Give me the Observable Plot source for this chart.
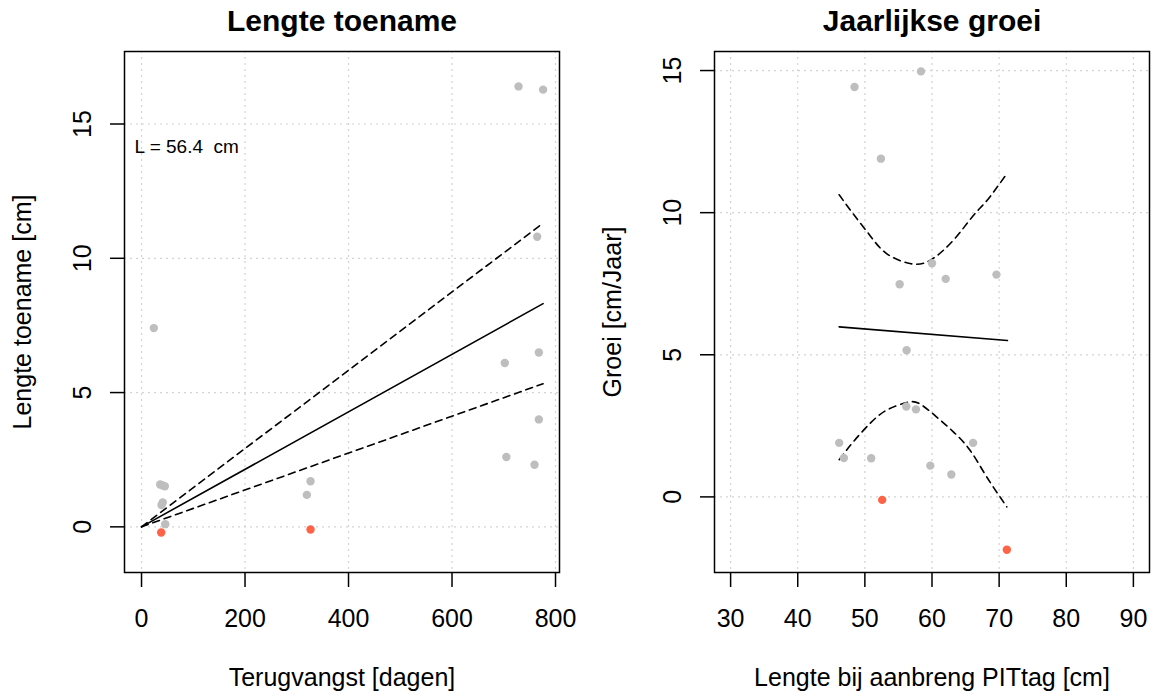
<!DOCTYPE html>
<html>
<head>
<meta charset="utf-8">
<script src="https://cdn.jsdelivr.net/npm/d3@7"></script>
<script src="https://cdn.jsdelivr.net/npm/@observablehq/plot@0.6"></script>
<style>
  html, body { margin: 0; padding: 0; background: #fff; }
  #wrap { display: flex; width: 1153px; height: 696px; }
  svg { font-family: "Liberation Sans", Arial, sans-serif; }
</style>
</head>
<body>
<div id="wrap"></div>
<script>
// ---------- Left panel: Lengte toename ----------
const leftTitle = "Lengte toename";
const leftXLabel = "Terugvangst [dagen]";
const leftYLabel = "Lengte toename [cm]";
const leftNote = "L = 56.4  cm";
const leftXTicks = [0, 200, 400, 600, 800];
const leftYTicks = [0, 5, 10, 15];

const grayDays = [728.5, 776, 764.6, 23.8, 702, 767.8, 767.8, 705, 759.4, 326.6, 319.5, 36, 40, 45, 41, 38.6, 45.8];
const grayGain = [16.40, 16.28, 10.80, 7.40, 6.10, 6.49, 4.00, 2.60, 2.31, 1.70, 1.19, 1.58, 1.55, 1.51, 0.91, 0.81, 0.10];
const redDays = [38, 326.6];
const redGain = [-0.21, -0.10];

const fitDays = [0, 776];
const fitGain = [0, 8.31];
const fitGainUpper = [0, 11.31];
const fitGainLower = [0, 5.33];

// ---------- Right panel: Jaarlijkse groei ----------
const rightTitle = "Jaarlijkse groei";
const rightXLabel = "Lengte bij aanbreng PITtag [cm]";
const rightYLabel = "Groei [cm/Jaar]";
const rightXTicks = [30, 40, 50, 60, 70, 80, 90];
const rightYTicks = [0, 5, 10, 15];

const grayLen = [48.46, 58.36, 52.39, 60.0, 55.18, 62.04, 69.6, 56.22, 56.17, 57.61, 46.17, 46.87, 50.94, 59.75, 62.88, 66.12];
const grayGrowth = [14.42, 14.97, 11.90, 8.22, 7.48, 7.67, 7.82, 5.16, 3.18, 3.08, 1.90, 1.37, 1.36, 1.10, 0.79, 1.90];
const redLen = [52.58, 71.15];
const redGrowth = [-0.105, -1.86];

const growthFitLen = [46.17, 71.24];
const growthFit = [5.98, 5.50];
const upperLen = [46.17, 48.25, 50.75, 53.24, 56.72, 59.70, 63.18, 66.16, 68.16, 71.15];
const upperGrowth = [10.63, 9.96, 9.20, 8.56, 8.21, 8.32, 9.03, 9.90, 10.42, 11.37];
const lowerLen = [46.17, 48.25, 50.75, 53.24, 56.22, 58.21, 60.70, 63.18, 65.67, 68.16, 71.15];
const lowerGrowth = [1.31, 1.93, 2.58, 3.05, 3.32, 3.27, 2.81, 2.29, 1.64, 0.70, -0.35];

// ---------- helpers ----------
const zip = (xs, ys) => xs.map((x, i) => ({x, y: ys[i]}));
const GRAY = "#BEBEBE", RED = "#FF6347", GRID = "#D3D3D3";
const FS = 25;

function commonMarks(o) {
  return [
    Plot.gridX(o.xTicks, {stroke: GRID, strokeOpacity: 1, strokeDasharray: "2,4", strokeWidth: 1.2}),
    Plot.gridY(o.yTicks, {stroke: GRID, strokeOpacity: 1, strokeDasharray: "2,4", strokeWidth: 1.2}),
    Plot.axisX({ticks: o.xTicks, tickSize: 15, tickFormat: () => "", label: null, strokeWidth: 1.5}),
    Plot.axisY({ticks: o.yTicks, tickSize: 14, tickFormat: () => "", label: null, strokeWidth: 1.5}),
    Plot.text(o.xTicks, {x: d => d, text: d => String(d), frameAnchor: "bottom", dy: 46, lineAnchor: "middle", textAnchor: "middle", fontSize: FS, fill: "black"}),
    Plot.text(o.yTicks, {y: d => d, text: d => String(d), frameAnchor: "left", dx: -42, rotate: -90, lineAnchor: "middle", textAnchor: "middle", fontSize: FS, fill: "black"}),
    Plot.text([o.title], {text: d => d, frameAnchor: "top", dy: -30, lineAnchor: "middle", textAnchor: "middle", fontSize: 30, fontWeight: "bold", fill: "black"}),
    Plot.text([o.xLabel], {text: d => d, frameAnchor: "bottom", dy: 105, lineAnchor: "middle", textAnchor: "middle", fontSize: FS, fill: "black"}),
    Plot.text([o.yLabel], {text: d => d, frameAnchor: "left", dx: -101.5, rotate: -90, lineAnchor: "middle", textAnchor: "middle", fontSize: FS, fill: "black"})
  ];
}

const left = Plot.plot({
  width: 576, height: 696,
  marginLeft: 124, marginRight: 17, marginTop: 51, marginBottom: 124,
  x: {domain: [-32.9, 807.7], axis: null},
  y: {domain: [-1.70, 17.70], axis: null},
  style: {fontFamily: "Liberation Sans, Arial, sans-serif", background: "white"},
  marks: [
    ...commonMarks({xTicks: leftXTicks, yTicks: leftYTicks, title: leftTitle, xLabel: leftXLabel, yLabel: leftYLabel}),
    Plot.line(zip(fitDays, fitGainUpper), {x: "x", y: "y", stroke: "black", strokeWidth: 1.6, strokeDasharray: "7,5"}),
    Plot.line(zip(fitDays, fitGainLower), {x: "x", y: "y", stroke: "black", strokeWidth: 1.6, strokeDasharray: "7,5"}),
    Plot.line(zip(fitDays, fitGain), {x: "x", y: "y", stroke: "black", strokeWidth: 1.6}),
    Plot.dot(zip(grayDays, grayGain), {x: "x", y: "y", r: 4.2, fill: GRAY}),
    Plot.dot(zip(redDays, redGain), {x: "x", y: "y", r: 4.2, fill: RED}),
    Plot.text([leftNote], {text: d => d, frameAnchor: "top-left", dx: 10, dy: 95.7, textAnchor: "start", lineAnchor: "middle", fontSize: 19, fill: "black"}),
    Plot.frame({stroke: "black", strokeWidth: 1.5})
  ]
});

const right = Plot.plot({
  width: 577, height: 696,
  marginLeft: 138, marginRight: 4, marginTop: 51, marginBottom: 124,
  x: {domain: [27.6, 92.4], axis: null},
  y: {domain: [-2.66, 15.67], axis: null},
  style: {fontFamily: "Liberation Sans, Arial, sans-serif", background: "white"},
  marks: [
    ...commonMarks({xTicks: rightXTicks, yTicks: rightYTicks, title: rightTitle, xLabel: rightXLabel, yLabel: rightYLabel}),
    Plot.line(zip(upperLen, upperGrowth), {x: "x", y: "y", stroke: "black", strokeWidth: 1.6, strokeDasharray: "7,5", curve: "natural"}),
    Plot.line(zip(lowerLen, lowerGrowth), {x: "x", y: "y", stroke: "black", strokeWidth: 1.6, strokeDasharray: "7,5", curve: "natural"}),
    Plot.line(zip(growthFitLen, growthFit), {x: "x", y: "y", stroke: "black", strokeWidth: 1.6}),
    Plot.dot(zip(grayLen, grayGrowth), {x: "x", y: "y", r: 4.2, fill: GRAY}),
    Plot.dot(zip(redLen, redGrowth), {x: "x", y: "y", r: 4.2, fill: RED}),
    Plot.frame({stroke: "black", strokeWidth: 1.5})
  ]
});

document.getElementById("wrap").append(left, right);
</script>
</body>
</html>
